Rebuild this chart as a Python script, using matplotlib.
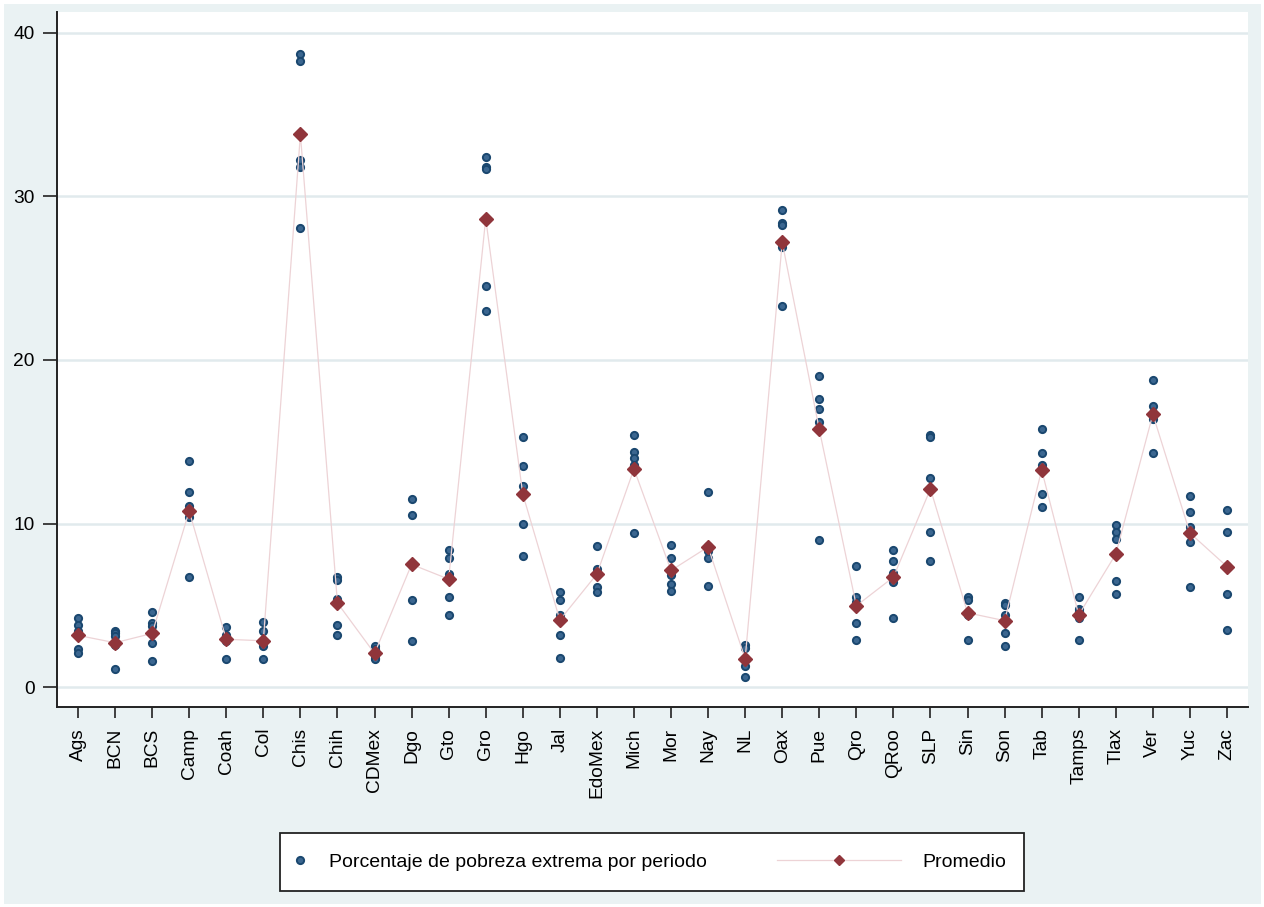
import matplotlib
matplotlib.use("Agg")
import matplotlib.pyplot as plt
from matplotlib.patches import Rectangle
from matplotlib.lines import Line2D

plt.rcParams['font.family'] = ['Liberation Sans', 'DejaVu Sans']

estados = ["Ags", "BCN", "BCS", "Camp", "Coah", "Col", "Chis", "Chih", "CDMex", "Dgo",
           "Gto", "Gro", "Hgo", "Jal", "EdoMex", "Mich", "Mor", "Nay", "NL", "Oax",
           "Pue", "Qro", "QRoo", "SLP", "Sin", "Son", "Tab", "Tamps", "Tlax", "Ver",
           "Yuc", "Zac"]

# Observed percentages per period (five periods per state, listed high to low)
obs_1 = [4.2, 3.4, 4.6, 13.8, 3.7, 4.0, 38.7, 6.7, 2.5, 11.5,
         8.4, 32.4, 15.3, 5.8, 8.6, 15.4, 8.7, 11.9, 2.6, 29.2,
         19.0, 7.4, 8.4, 15.4, 5.5, 5.15, 15.8, 5.5, 9.9, 18.8,
         11.7, 10.8]
obs_2 = [3.8, 3.3, 3.9, 11.9, 3.2, 3.4, 38.3, 6.55, 2.3, 10.5,
         7.9, 31.8, 13.5, 5.3, 7.2, 14.4, 7.9, 8.6, 2.4, 28.35,
         17.6, 5.5, 7.7, 15.3, 5.3, 5.0, 14.3, 4.8, 9.5, 17.2,
         10.7, 9.5]
obs_3 = [3.4, 3.15, 3.75, 11.05, 3.05, 2.75, 32.2, 5.4, 2.0, 7.45,
         6.9, 31.7, 12.3, 4.4, 6.9, 14.0, 6.85, 8.3, 1.75, 28.25,
         17.0, 5.2, 7.0, 12.8, 4.6, 4.4, 13.6, 4.65, 9.05, 16.75,
         9.8, 7.4]
obs_4 = [2.3, 2.6, 2.7, 10.4, 2.8, 2.5, 31.8, 3.8, 1.8, 5.3,
         5.5, 24.5, 10.0, 3.2, 6.1, 13.55, 6.3, 7.9, 1.3, 26.9,
         16.2, 3.9, 6.4, 9.5, 4.4, 3.3, 11.8, 4.25, 6.5, 16.4,
         8.9, 5.7]
obs_5 = [2.1, 1.1, 1.6, 6.7, 1.7, 1.7, 28.1, 3.2, 1.7, 2.8,
         4.4, 23.0, 8.0, 1.8, 5.8, 9.4, 5.87, 6.2, 0.6, 23.3,
         9.0, 2.9, 4.2, 7.7, 2.9, 2.5, 11.0, 2.9, 5.7, 14.3,
         6.1, 3.5]

promedio = [3.16, 2.71, 3.28, 10.76, 2.92, 2.83, 33.8, 5.14, 2.06, 7.5,
            6.6, 28.65, 11.8, 4.1, 6.91, 13.34, 7.13, 8.57, 1.73, 27.2,
            15.75, 4.97, 6.72, 12.12, 4.54, 4.06, 13.28, 4.41, 8.13, 16.68,
            9.42, 7.37]

y_ticks = [0, 10, 20, 30, 40]

W, H = 1264, 907
fig = plt.figure(figsize=(W / 100, H / 100), dpi=100, facecolor='white')

# Graph region background
fig.patches.append(Rectangle((4 / W, 3 / H), (W - 7) / W, (H - 7) / H,
                             transform=fig.transFigure, facecolor='#EAF2F3',
                             edgecolor='none', zorder=-10))

ax = fig.add_axes([57 / W, (H - 707) / H, (1248 - 57) / W, (707 - 12) / H])
ax.set_zorder(1)
ax.set_facecolor('white')

xs = list(range(len(estados)))
navy = '#1A476F'
maroon = '#90353B'
line_col = '#EDD3D6'

for ser in [obs_1, obs_2, obs_3, obs_4, obs_5]:
    ax.plot(xs, ser, linestyle='none', marker='o', markersize=5.2,
            markerfacecolor='#3B6690', markeredgecolor=navy, markeredgewidth=1.4,
            zorder=3)

ax.plot(xs, promedio, color=line_col, linewidth=0.9, marker='D', markersize=7,
        markerfacecolor=maroon, markeredgecolor=maroon, zorder=4)

ax.set_xlim(-0.567, 31.567)
ax.set_ylim(-1.22, 41.28)
ax.set_yticks(y_ticks)
ax.set_yticklabels([str(v) for v in y_ticks])
ax.set_xticks(xs)
ax.set_xticklabels(estados, rotation=90)

ax.grid(axis='y', color='#E1EAED', linewidth=1.8, zorder=0)
ax.set_axisbelow(True)

for s in ['top', 'right']:
    ax.spines[s].set_visible(False)
for s in ['left', 'bottom']:
    ax.spines[s].set_linewidth(1.4)
    ax.spines[s].set_color('#222222')

ax.tick_params(axis='y', length=10, width=1.2, pad=6, labelsize=13.8, colors='#222222',
               labelcolor='black')
ax.tick_params(axis='x', length=8, width=1.2, pad=7, labelsize=13.8, colors='#222222',
               labelcolor='black')

# Legend box
fig.patches.append(Rectangle((280 / W, (H - 891) / H), (1024 - 280) / W, (891 - 833) / H,
                             transform=fig.transFigure, facecolor='white',
                             edgecolor='#222222', linewidth=1.3, zorder=2))

yc = (H - 862) / H
h1 = Line2D([], [], linestyle='none', marker='o', markersize=5.2,
            markerfacecolor='#3B6690', markeredgecolor=navy, markeredgewidth=1.4)
h2 = Line2D([], [], color=line_col, linewidth=0.9, marker='D', markersize=5.5,
            markerfacecolor=maroon, markeredgecolor=maroon)

leg1 = fig.legend(handles=[h1], labels=["Porcentaje de pobreza extrema por periodo"],
                  loc='center left', bbox_to_anchor=(290 / W, yc), frameon=False,
                  handlelength=1.0, handletextpad=1.0, borderpad=0, borderaxespad=0,
                  fontsize=14)
leg2 = fig.legend(handles=[h2], labels=["Promedio"],
                  loc='center left', bbox_to_anchor=(777 / W, yc), frameon=False,
                  handlelength=6.4, handletextpad=1.1, borderpad=0, borderaxespad=0,
                  fontsize=14)
leg1.set_zorder(5)
leg2.set_zorder(5)

fig.savefig('out.png', dpi=100, facecolor=fig.get_facecolor())
